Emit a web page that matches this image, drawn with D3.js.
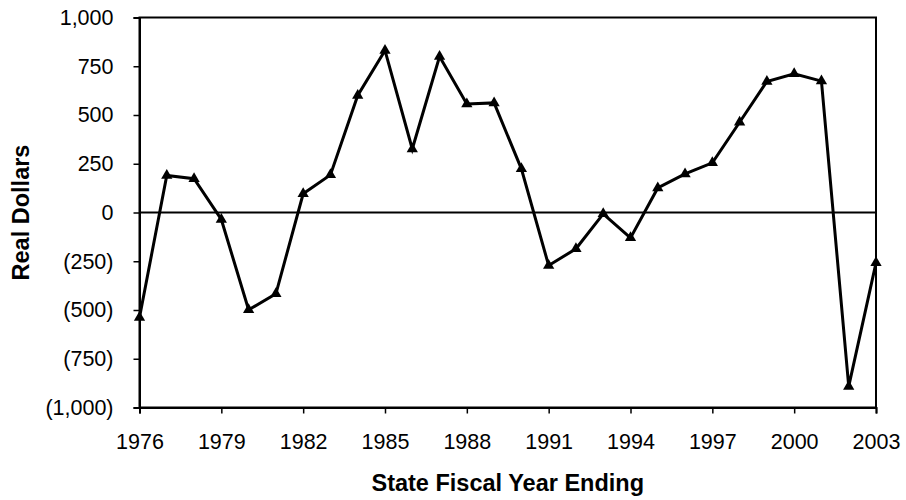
<!DOCTYPE html>
<html>
<head>
<meta charset="utf-8">
<script src="https://cdn.jsdelivr.net/npm/d3@7"></script>
<style>
  html, body { margin: 0; padding: 0; background: #fff; }
  svg { display: block; font-family: "Liberation Sans", Arial, sans-serif; }
</style>
</head>
<body>
<svg id="chart" width="906" height="500"></svg>
<script>
const years = [1976,1977,1978,1979,1980,1981,1982,1983,1984,1985,1986,1987,1988,1989,
               1990,1991,1992,1993,1994,1995,1996,1997,1998,1999,2000,2001,2002,2003];
const values = [-538,190,173,-36,-499,-417,96,193,600,831,326,800,557,562,
                224,-272,-186,-7,-130,126,198,255,463,672,711,674,-892,-258];
const xTicks = [1976,1979,1982,1985,1988,1991,1994,1997,2000,2003];
const yTicks = [-1000,-750,-500,-250,0,250,500,750,1000];
const xTitle = "State Fiscal Year Ending";
const yTitle = "Real Dollars";

const svg = d3.select("#chart");
const m = {left: 139.5, right: 876, top: 17.5, bottom: 407.5};

const x = d3.scaleLinear().domain([1976, 2003]).range([m.left, m.right]);
const y = d3.scaleLinear().domain([-1000, 1000]).range([m.bottom, m.top]);

const fmt = v => {
  const s = d3.format(",")(Math.abs(v));
  return v < 0 ? "(" + s + ")" : s;
};

// frame
svg.append("rect")
  .attr("x", m.left).attr("y", m.top)
  .attr("width", m.right - m.left).attr("height", m.bottom - m.top)
  .attr("fill", "none").attr("stroke", "#000").attr("stroke-width", 2);

// y axis
const yAxis = svg.append("g")
  .attr("transform", `translate(${m.left},0)`)
  .call(d3.axisLeft(y).tickValues(yTicks).tickFormat(fmt).tickSize(6).tickPadding(20));
yAxis.select(".domain").attr("stroke-width", 2);
yAxis.selectAll(".tick line").attr("stroke-width", 1.5);
yAxis.selectAll("text").attr("font-size", 21.5).attr("fill", "#000")
  .attr("font-family", "'Liberation Sans', Arial, sans-serif");

// x axis
const xAxis = svg.append("g")
  .attr("transform", `translate(0,${m.bottom})`)
  .call(d3.axisBottom(x).tickValues(xTicks).tickFormat(d3.format("d")).tickSize(6).tickPadding(20));
xAxis.select(".domain").attr("stroke-width", 2);
xAxis.selectAll(".tick line").attr("stroke-width", 1.5);
xAxis.selectAll("text").attr("font-size", 21.5).attr("fill", "#000")
  .attr("font-family", "'Liberation Sans', Arial, sans-serif");

// zero line
svg.append("line")
  .attr("x1", m.left).attr("x2", m.right)
  .attr("y1", y(0)).attr("y2", y(0))
  .attr("stroke", "#000").attr("stroke-width", 2);

const data = years.map((yr, i) => ({yr, v: values[i]}));

svg.append("path")
  .datum(data)
  .attr("fill", "none").attr("stroke", "#000").attr("stroke-width", 3)
  .attr("stroke-linejoin", "miter")
  .attr("d", d3.line().x(d => x(d.yr)).y(d => y(d.v)));

svg.selectAll(".mk").data(data).enter().append("path")
  .attr("class", "mk")
  .attr("transform", d => `translate(${x(d.yr)},${y(d.v)})`)
  .attr("d", d3.symbol().type(d3.symbolTriangle).size(55))
  .attr("fill", "#000");

// titles
svg.append("text")
  .attr("x", (m.left + m.right) / 2).attr("y", 491)
  .attr("text-anchor", "middle").attr("font-weight", "bold").attr("font-size", 23.5)
  .text(xTitle);

svg.append("text")
  .attr("transform", `translate(29,${(m.top + m.bottom) / 2}) rotate(-90)`)
  .attr("text-anchor", "middle").attr("font-weight", "bold").attr("font-size", 23.5)
  .text(yTitle);
</script>
</body>
</html>
